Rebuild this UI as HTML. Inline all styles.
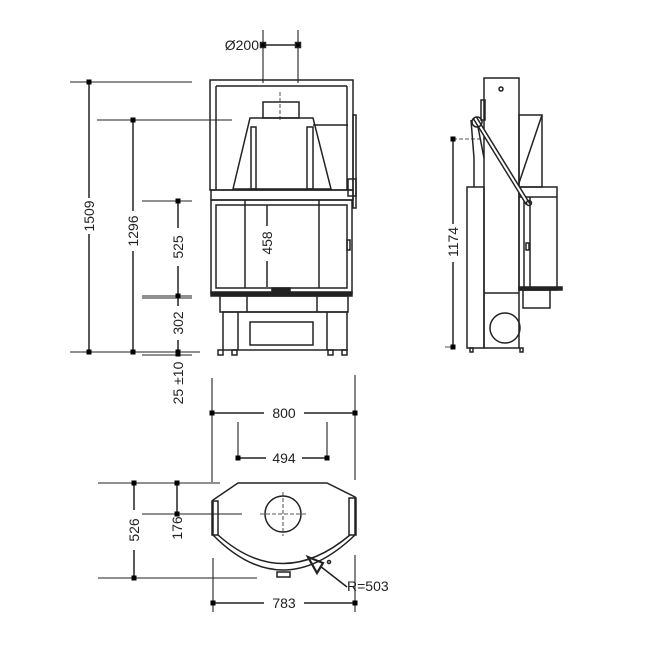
<!DOCTYPE html>
<html><head><style>html,body{margin:0;padding:0;background:#fff}</style></head><body>
<svg width="650" height="650" viewBox="0 0 650 650" xmlns="http://www.w3.org/2000/svg" font-family="Liberation Sans, sans-serif" font-size="14" fill="none" stroke="#222" stroke-width="1.5">
<!-- FRONT VIEW -->
<rect x="210" y="80" width="143" height="110"/>
<line x1="216" y1="86" x2="347" y2="86"/>
<line x1="216" y1="86" x2="216" y2="190"/>
<line x1="347" y1="86" x2="347" y2="190"/>
<rect x="211" y="190" width="142" height="10"/>
<rect x="263" y="102" width="36" height="16"/>
<line x1="280" y1="92" x2="280" y2="122" stroke-dasharray="4,2" stroke-width="0.8"/>
<polygon points="250,118 313,118 331,189 233,189"/>
<rect x="251" y="127" width="5" height="62"/>
<rect x="307" y="127" width="6" height="62"/>
<line x1="313" y1="125" x2="348" y2="125"/>
<rect x="353" y="115" width="3" height="93"/>
<rect x="348" y="179" width="8" height="17"/>
<rect x="211" y="200" width="141" height="93"/>
<rect x="216" y="205" width="131" height="83"/>
<line x1="245" y1="200" x2="245" y2="288"/>
<line x1="319" y1="200" x2="319" y2="288"/>
<rect x="347" y="240" width="3" height="10"/>
<rect x="211" y="292" width="141" height="4" fill="#222"/>
<rect x="272" y="288" width="18" height="4" fill="#222"/>
<rect x="220" y="296" width="128" height="16"/>
<line x1="247" y1="296" x2="247" y2="312"/>
<line x1="317" y1="296" x2="317" y2="312"/>
<rect x="223" y="312" width="124" height="38"/>
<line x1="238" y1="312" x2="238" y2="350"/>
<line x1="327" y1="312" x2="327" y2="350"/>
<rect x="250" y="322" width="63" height="23"/>
<rect x="218" y="350" width="5" height="5"/><rect x="232" y="350" width="5" height="5"/>
<rect x="328" y="350" width="5" height="5"/><rect x="342" y="350" width="5" height="5"/>
<!-- Ø200 -->
<line x1="263" y1="30" x2="263" y2="83" stroke-width="1.1"/>
<line x1="298" y1="30" x2="298" y2="83" stroke-width="1.1"/>
<line x1="263" y1="45" x2="298" y2="45"/>
<rect x="260.5" y="42.5" width="5" height="5" fill="#000"/><rect x="295.5" y="42.5" width="5" height="5" fill="#000"/>
<text x="259" y="50" text-anchor="end" fill="#222" stroke="none">Ø200</text>
<!-- left dims -->
<line x1="70" y1="82" x2="192" y2="82" stroke-width="1.1"/>
<line x1="70" y1="352" x2="200" y2="352" stroke-width="1.1"/>
<line x1="97" y1="120" x2="232" y2="120" stroke-width="1.1"/>
<line x1="142" y1="201" x2="192" y2="201" stroke-width="1.1"/>
<line x1="142" y1="296" x2="192" y2="296" stroke-width="1.1"/>
<line x1="142" y1="298" x2="192" y2="298" stroke-width="1.1"/>
<line x1="142" y1="355" x2="192" y2="355" stroke-width="1.1"/>
<line x1="89" y1="82" x2="89" y2="198"/><line x1="89" y1="234" x2="89" y2="352"/>
<line x1="133" y1="120" x2="133" y2="211"/><line x1="133" y1="251" x2="133" y2="352"/>
<line x1="178" y1="201" x2="178" y2="228"/><line x1="178" y1="266" x2="178" y2="296"/>
<line x1="178" y1="296" x2="178" y2="306"/><line x1="178" y1="340" x2="178" y2="352"/>
<line x1="267" y1="205" x2="267" y2="226"/><line x1="267" y1="261" x2="267" y2="287"/>
<g fill="#000" stroke="none">
<rect x="86.5" y="79.5" width="5" height="5"/><rect x="86.5" y="349.5" width="5" height="5"/>
<rect x="130.5" y="117.5" width="5" height="5"/><rect x="130.5" y="349.5" width="5" height="5"/>
<rect x="175.5" y="198.5" width="5" height="5"/><rect x="175.5" y="293.5" width="5" height="5"/>
<rect x="175.5" y="349.5" width="5" height="7"/>
</g>
<g fill="#222" stroke="none" text-anchor="middle">
<text transform="translate(94,216) rotate(-90)">1509</text>
<text transform="translate(138,231) rotate(-90)">1296</text>
<text transform="translate(183,247) rotate(-90)">525</text>
<text transform="translate(183,323) rotate(-90)">302</text>
<text transform="translate(183,383) rotate(-90)">25 ±10</text>
<text transform="translate(272,243) rotate(-90)">458</text>
</g>
<!-- SIDE VIEW -->
<rect x="484" y="78" width="35" height="270"/>
<circle cx="501" cy="89" r="2"/>
<rect x="467" y="187" width="17" height="161"/>
<polygon points="519,115 542,115 542,187 519,187"/>
<line x1="542" y1="115" x2="519" y2="183"/>
<rect x="519" y="187" width="38" height="103"/>
<line x1="519" y1="197" x2="557" y2="197"/>
<line x1="524" y1="197" x2="524" y2="290"/><line x1="530" y1="197" x2="530" y2="290"/>
<rect x="526" y="243" width="3" height="7"/>
<rect x="519" y="287" width="43" height="3" fill="#222"/>
<rect x="523" y="290" width="27" height="18"/>
<line x1="484" y1="293" x2="519" y2="293"/>
<circle cx="505" cy="328" r="15"/>
<rect x="470" y="348" width="3" height="4"/><rect x="520" y="348" width="3" height="4"/>
<line x1="475" y1="118" x2="528" y2="204" stroke-width="5"/>
<line x1="475" y1="118" x2="528" y2="204" stroke="#fff" stroke-width="2"/>
<circle cx="477" cy="122" r="5"/>
<circle cx="529" cy="203" r="2.5"/>
<rect x="481" y="100" width="4" height="20"/>
<line x1="471" y1="120" x2="474" y2="158"/>
<line x1="478" y1="127" x2="484" y2="158"/>
<line x1="474" y1="158" x2="474" y2="187"/>
<line x1="453" y1="139" x2="453" y2="224"/><line x1="453" y1="262" x2="453" y2="347"/>
<line x1="453" y1="139" x2="484" y2="139" stroke-dasharray="4,2" stroke-width="0.8"/>
<line x1="445" y1="347" x2="453" y2="347" stroke-width="0.8"/>
<rect x="450.5" y="136.5" width="5" height="5" fill="#000" stroke="none"/>
<rect x="450.5" y="344.5" width="5" height="5" fill="#000" stroke="none"/>
<text transform="translate(458,242) rotate(-90)" text-anchor="middle" fill="#222" stroke="none">1174</text>
<!-- PLAN VIEW -->
<path d="M213,535 L213,500 L238,483 L327,483 L355,497 L355,535"/>
<rect x="212" y="501" width="6" height="34"/>
<rect x="349" y="498" width="7" height="37"/>
<path d="M213,535 Q282,605 355,535"/>
<path d="M218,535 Q282,592 350,535"/>
<rect x="277" y="572" width="13" height="5"/>
<circle cx="283" cy="514" r="18"/>
<line x1="260" y1="514" x2="306" y2="514" stroke-dasharray="4,2" stroke-width="0.8"/>
<line x1="283" y1="492" x2="283" y2="536" stroke-dasharray="4,2" stroke-width="0.8"/>
<polygon points="308,557 323,563 317,573" stroke-width="2.2"/>
<circle cx="329" cy="562" r="1.5"/>
<line x1="320" y1="566" x2="347" y2="587"/>
<text x="347" y="591" fill="#222" stroke="none">R=503</text>
<!-- plan dims -->
<line x1="212" y1="378" x2="212" y2="482" stroke-width="1.1"/>
<line x1="355" y1="375" x2="355" y2="480" stroke-width="1.1"/>
<line x1="238" y1="422" x2="238" y2="460" stroke-width="1.1"/>
<line x1="327" y1="422" x2="327" y2="460" stroke-width="1.1"/>
<line x1="212" y1="413" x2="264" y2="413"/><line x1="304" y1="413" x2="355" y2="413"/>
<line x1="238" y1="458" x2="266" y2="458"/><line x1="302" y1="458" x2="327" y2="458"/>
<line x1="98" y1="483" x2="220" y2="483" stroke-width="1.1"/>
<line x1="98" y1="578" x2="257" y2="578" stroke-width="1.1"/>
<line x1="142" y1="514" x2="242" y2="514" stroke-width="1.1"/>
<line x1="134" y1="483" x2="134" y2="510"/><line x1="134" y1="550" x2="134" y2="578"/>
<line x1="177" y1="483" x2="177" y2="514"/>
<line x1="213" y1="558" x2="213" y2="612" stroke-width="1.1"/>
<line x1="355" y1="555" x2="355" y2="612" stroke-width="1.1"/>
<line x1="213" y1="603" x2="264" y2="603"/><line x1="304" y1="603" x2="355" y2="603"/>
<g fill="#000" stroke="none">
<rect x="209.5" y="410.5" width="5" height="5"/><rect x="352.5" y="410.5" width="5" height="5"/>
<rect x="235.5" y="455.5" width="5" height="5"/><rect x="324.5" y="455.5" width="5" height="5"/>
<rect x="131.5" y="480.5" width="5" height="5"/><rect x="131.5" y="575.5" width="5" height="5"/>
<rect x="174.5" y="480.5" width="5" height="5"/><rect x="174.5" y="511.5" width="5" height="5"/>
<rect x="210.5" y="600.5" width="5" height="5"/><rect x="352.5" y="600.5" width="5" height="5"/>
</g>
<g fill="#222" stroke="none" text-anchor="middle">
<text x="284" y="418">800</text>
<text x="284" y="463">494</text>
<text x="284" y="608">783</text>
<text transform="translate(139,530) rotate(-90)">526</text>
<text transform="translate(182,528) rotate(-90)">176</text>
</g>
</svg>
</body></html>
